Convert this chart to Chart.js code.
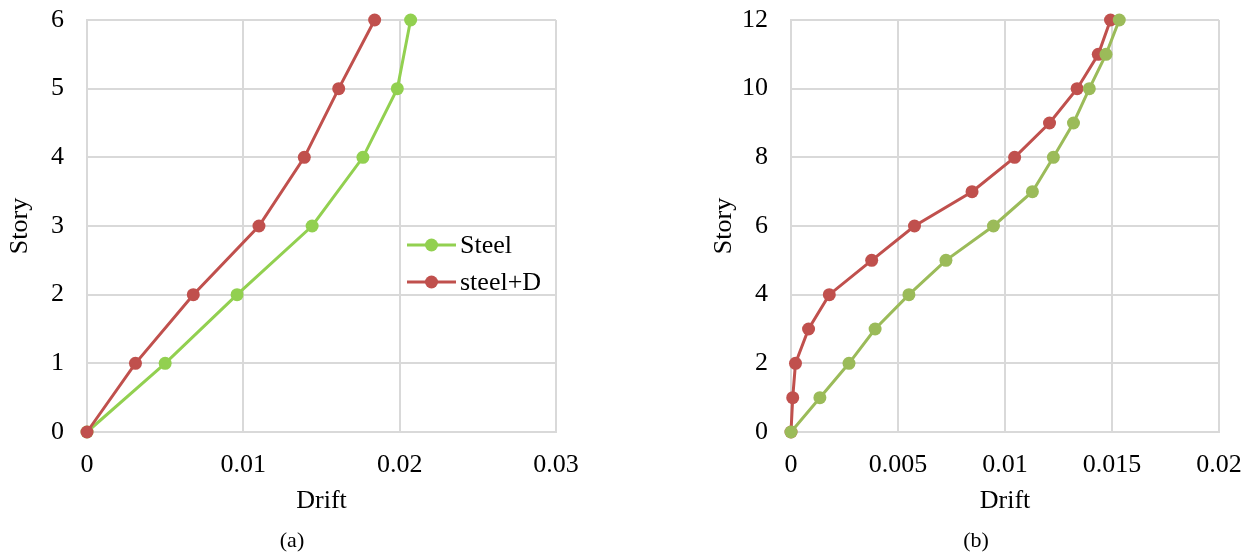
<!DOCTYPE html>
<html>
<head>
<meta charset="utf-8">
<script src="https://cdn.jsdelivr.net/npm/chart.js@4.4.1/dist/chart.umd.min.js"></script>
<style>
  body { margin: 0; background: #fff; width: 1248px; height: 553px; position: relative; overflow: hidden; }
  canvas { position: absolute; top: 0; }
  #chartA { left: 0; }
  #chartB { left: 704px; }
  .caption { position: absolute; top: 527px; font: 22px "Liberation Serif", serif; color: #000; transform: translateX(-50%); }
</style>
</head>
<body>
<canvas id="chartA" width="620" height="553"></canvas>
<canvas id="chartB" width="544" height="553"></canvas>
<div class="caption" style="left:292px">(a)</div>
<div class="caption" style="left:976px">(b)</div>
<script>
// (a) 6-story frame
const storiesA = [0, 1, 2, 3, 4, 5, 6];
const steelA = [0, 0.0050, 0.0096, 0.0144, 0.01765, 0.01985, 0.0207];
const steelDA = [0, 0.0031, 0.0068, 0.0110, 0.0139, 0.0161, 0.0184];

// (b) 12-story frame
const storiesB = [0, 1, 2, 3, 4, 5, 6, 7, 8, 9, 10, 11, 12];
const steelB = [0, 0.00135, 0.00271, 0.00393, 0.00551, 0.00724, 0.00946, 0.01128, 0.01226, 0.0132, 0.01394, 0.01472, 0.01534];
const steelDB = [0, 0.00008, 0.00021, 0.00082, 0.00179, 0.00377, 0.00577, 0.00846, 0.01045, 0.01208, 0.01337, 0.01436, 0.01493];

const seriesNames = ["Steel", "steel+D"];

const FONT = "'Liberation Serif', 'Times New Roman', serif";
const FONT_SIZE = 26;
const GRID = "#D9D9D9";
const TEXT = "#000";

function toPoints(xs, ys) {
  return xs.map((x, i) => ({ x: x, y: ys[i] }));
}

function series(label, xs, ys, color, order) {
  return {
    label: label,
    data: toPoints(xs, ys),
    showLine: true,
    borderColor: color,
    backgroundColor: color,
    borderWidth: 3,
    pointRadius: 6.5,
    pointHoverRadius: 6.5,
    pointBorderWidth: 0,
    clip: false,
    order: order
  };
}

// legend drawn inside the plot, no box behind it
const insideLegend = {
  id: "insideLegend",
  afterDatasetsDraw(chart, args, opts) {
    if (!opts.show) return;
    const ctx = chart.ctx;
    const area = chart.chartArea;
    ctx.save();
    ctx.font = FONT_SIZE + "px " + FONT;
    ctx.textBaseline = "middle";
    chart.data.datasets.forEach((ds, i) => {
      const y = area.top + opts.top + i * opts.rowGap;
      const x0 = area.left + opts.left;
      ctx.strokeStyle = ds.borderColor;
      ctx.lineWidth = 3;
      ctx.beginPath();
      ctx.moveTo(x0, y);
      ctx.lineTo(x0 + 49, y);
      ctx.stroke();
      ctx.fillStyle = ds.backgroundColor;
      ctx.beginPath();
      ctx.arc(x0 + 24.5, y, 6.5, 0, Math.PI * 2);
      ctx.fill();
      ctx.fillStyle = TEXT;
      ctx.fillText(ds.label, x0 + 53, y + 1);
    });
    ctx.restore();
  }
};

function makeChart(id, datasets, xMax, xStep, yMax, yStep, padRight, legend) {
  return new Chart(document.getElementById(id), {
    type: "scatter",
    data: { datasets: datasets },
    plugins: [insideLegend],
    options: {
      responsive: false,
      animation: false,
      events: [],
      layout: { padding: { left: 0, top: 20, right: padRight, bottom: 34 } },
      plugins: {
        legend: { display: false },
        tooltip: { enabled: false },
        insideLegend: legend
      },
      scales: {
        x: {
          type: "linear",
          min: 0, max: xMax,
          // fixed axis box; the label overhang is handled by the layout padding
          afterFit: (s) => { s.height = 87; s.paddingLeft = 0; s.paddingRight = 0; },
          grid: { color: GRID, lineWidth: 2, drawTicks: false },
          border: { color: GRID, width: 2 },
          ticks: {
            stepSize: xStep,
            padding: 18,
            color: TEXT,
            font: { family: FONT, size: FONT_SIZE },
            callback: (v) => String(+v.toFixed(4))
          },
          title: { display: true, text: "Drift", color: TEXT, font: { family: FONT, size: FONT_SIZE }, padding: { top: 0, bottom: 2 } }
        },
        y: {
          type: "linear",
          min: 0, max: yMax,
          afterFit: (s) => { s.width = 87; s.paddingTop = 0; s.paddingBottom = 0; },
          grid: { color: GRID, lineWidth: 2, drawTicks: false },
          border: { color: GRID, width: 2 },
          ticks: {
            stepSize: yStep,
            padding: 23,
            color: TEXT,
            font: { family: FONT, size: FONT_SIZE }
          },
          title: { display: true, text: "Story", color: TEXT, font: { family: FONT, size: FONT_SIZE }, padding: { top: 5, bottom: 0 } }
        }
      }
    }
  });
}

makeChart("chartA", [
  series(seriesNames[0], steelA, storiesA, "#92D050", 1),
  series(seriesNames[1], steelDA, storiesA, "#C0504D", 0)
], 0.03, 0.01, 6, 1, 64, { show: true, left: 320, top: 225, rowGap: 37 });

makeChart("chartB", [
  series(seriesNames[0], steelB, storiesB, "#9BBB59", 0),
  series(seriesNames[1], steelDB, storiesB, "#C0504D", 1)
], 0.02, 0.005, 12, 2, 29, { show: false });
</script>
</body>
</html>
